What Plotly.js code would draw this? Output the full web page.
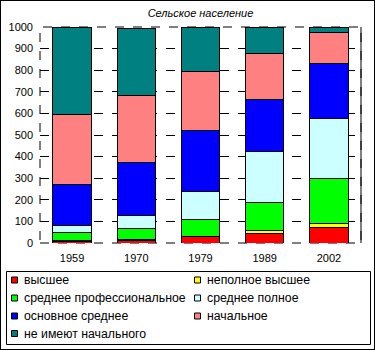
<!DOCTYPE html>
<html><head><meta charset="utf-8">
<script src="https://cdn.plot.ly/plotly-3.0.1.min.js"></script>
<style>
body{margin:0;padding:0;background:#fff;}
#wrap{position:relative;width:375px;height:350px;}
#chart{width:375px;height:350px;}
#frame{position:absolute;left:0;top:0;width:375px;height:350px;box-sizing:border-box;border:1px solid #000;pointer-events:none;}
</style>
</head><body>
<div id="wrap"><div id="chart"></div><div id="frame"></div></div>
<script>
const years = ['1959', '1970', '1979', '1989', '2002'];
const seriesNames = ['высшее', 'неполное высшее', 'среднее профессиональное', 'среднее полное', 'основное среднее', 'начальное', 'не имеют начального'];
const higher      = [8, 13, 30, 45, 73];
const incHigher   = [4, 5, 1, 12, 15];
const secProf     = [37, 50, 79, 131, 211];
const secFull     = [31, 60, 129, 236, 278];
const basicSec    = [192, 245, 283, 241, 255];
const primary     = [324, 311, 273, 213, 143];
const noPrimary   = [404, 311, 205, 122, 25];
const colors = ['#FF0000', '#FFFF00', '#00FF00', '#CCFFFF', '#0000FF', '#FF8080', '#008080'];
const allSeries = [higher, incHigher, secProf, secFull, basicSec, primary, noPrimary];

const traces = allSeries.map((vals, i) => ({
  type: 'bar', x: years, y: vals, name: seriesNames[i],
  marker: {color: colors[i], line: {color: '#000', width: 1}},
  hoverinfo: 'none', showlegend: false
}));

const L = 40, R = 361, T = 27, B = 243;
const pw = R - L, ph = B - T;
const px = v => (v - L) / pw;
const py = v => (B - v) / ph;

const shapes = [
  {type: 'rect', xref: 'paper', yref: 'paper', x0: 0, x1: 1, y0: 0, y1: 1, line: {color: '#000', width: 1, dash: 'dash'}, layer: 'below'},
  {type: 'line', xref: 'paper', yref: 'paper', x0: 1, x1: 1, y0: 0, y1: 1, line: {color: '#000', width: 1}},
  {type: 'rect', xref: 'paper', yref: 'paper', x0: px(6.5), x1: px(370.5), y0: py(271.5), y1: py(344.5), line: {color: '#000', width: 1}, fillcolor: 'rgba(0,0,0,0)'}
];
const annotations = [];
const colX = [[11.5, 22], [194.5, 205]];
const rowY = [280, 298, 316, 333.5];
seriesNames.forEach((name, i) => {
  const c = colX[i % 2], r = rowY[Math.floor(i / 2)];
  shapes.push({type: 'rect', xref: 'paper', yref: 'paper', x0: px(c[0]), x1: px(c[0] + 6), y0: py(r - 3), y1: py(r + 3),
               fillcolor: colors[i], line: {color: '#000', width: 1}});
  annotations.push({xref: 'paper', yref: 'paper', x: px(c[1]), y: py(r), xanchor: 'left', yanchor: 'middle',
                    text: name, showarrow: false, font: {size: 12.3}});
});

const layout = {
  width: 375, height: 350,
  margin: {l: L, r: 375 - R, t: T, b: 350 - B, pad: 0},
  paper_bgcolor: '#fff', plot_bgcolor: '#fff',
  font: {family: 'Arial, "Liberation Sans", sans-serif', size: 11, color: '#000'},
  barmode: 'stack', bargap: 0.4,
  title: {text: 'Сельское население', font: {size: 11, style: 'italic'}, x: 0.5, xref: 'paper', y: 1 - 13/350, yanchor: 'middle'},
  xaxis: {type: 'category', showgrid: false, showline: false, ticks: '', tickfont: {size: 11}, ticklabelstandoff: 7},
  yaxis: {range: [0, 1000], dtick: 100, showgrid: true, gridcolor: '#000', griddash: 'dash', gridwidth: 1,
          zeroline: false, showline: false, ticks: '', tickfont: {size: 11}, ticklabelstandoff: 6},
  showlegend: false,
  shapes: shapes,
  annotations: annotations
};
Plotly.newPlot('chart', traces, layout, {staticPlot: true, displayModeBar: false});
</script>
</body></html>
